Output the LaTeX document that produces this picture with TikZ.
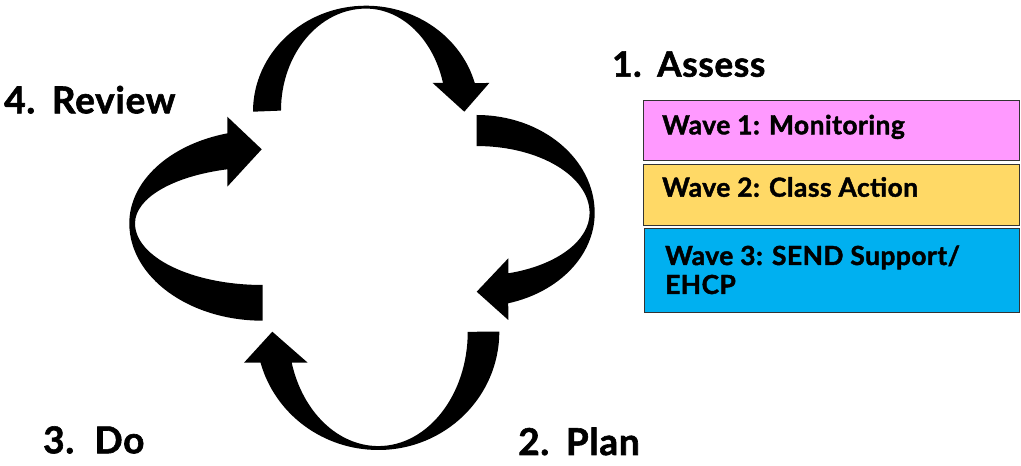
\documentclass[tikz,border=0pt]{standalone}
\usepackage{fontspec}
\setmainfont{Lato}[BoldFeatures={FakeBold=1.6,LetterSpace=2}]
\definecolor{wpink}{HTML}{FF99FF}
\definecolor{wgold}{HTML}{FFD966}
\definecolor{wblue}{HTML}{00B0F0}
\begin{document}
\begin{tikzpicture}[x=1pt,y=1pt,
  bigtext/.style={anchor=base west,inner sep=0pt,font=\fontsize{35}{40}\selectfont\bfseries},
  bigtextw/.style={bigtext,font=\fontsize{37}{42}\selectfont\bfseries},
  boxtext/.style={anchor=base west,inner sep=0pt,font=\fontsize{26.3}{30}\selectfont\bfseries},
  wavebox/.style={draw=black!80,line width=1.2pt,anchor=north west,inner sep=0pt,minimum width=376pt},
  bent/.style={fill=black}]
\useasboundingbox (0,0) rectangle (1021,466);
% top arrow
\fill[bent] (253,354.3) arc[start angle=180,end angle=15.7,x radius=113,y radius=106]
  -- (489.3,383) -- (464.3,354.3) -- (432.7,383) -- (443,383)
  arc[start angle=15.7,end angle=90,x radius=80,y radius=102]
  arc[start angle=90,end angle=180,x radius=85,y radius=102] -- cycle;
% right arrow
\fill[bent] (476.7,351) arc[start angle=90,end angle=0,x radius=118,y radius=98]
  arc[start angle=0,end angle=-74.5,x radius=118,y radius=93.7]
  -- (508.3,146) -- (476.7,174.3) -- (508.3,207.7) -- (508.3,192.7)
  arc[start angle=-73.7,end angle=0,x radius=113,y radius=62.8]
  arc[start angle=0,end angle=90,x radius=113,y radius=67] -- cycle;
% bottom arrow
\fill[bent] (499.3,134.3) arc[start angle=0,end angle=-90,x radius=121,y radius=118.3]
  arc[start angle=270,end angle=195.2,x radius=122,y radius=118.3]
  -- (244,103.3) -- (272.3,134.3) -- (307.7,103.3) -- (291.7,103.3)
  arc[start angle=195.7,end angle=270,x radius=90,y radius=114.3]
  arc[start angle=270,end angle=360,x radius=89.4,y radius=114.3] -- cycle;
% left arrow
\fill[bent] (262.7,145.3) arc[start angle=270,end angle=180,x radius=133.4,y radius=97.4]
  arc[start angle=180,end angle=105.4,x radius=133.4,y radius=93.3]
  -- (227.3,349.3) -- (261.7,316.7) -- (227.3,279.3) -- (227.3,296.7)
  arc[start angle=106.1,end angle=180,x radius=127.7,y radius=56.2]
  arc[start angle=180,end angle=270,x radius=127.7,y radius=61.7] -- cycle;
% stage labels
\node[bigtext] (assess) at (612,389.3) {1.\hspace{0.45em}Assess};
\node[bigtextw] (review) at (4,352.7) {4.\hspace{0.45em}Review};
\node[bigtextw] (do) at (43,12.7) {3.\hspace{0.55em}Do};
\node[bigtextw] (plan) at (518,11) {2.\hspace{0.45em}Plan};
% wave boxes
\node[wavebox,fill=wpink,minimum height=60pt] (w1) at (642.7,366) {};
\node[wavebox,fill=wgold,minimum height=61pt] (w2) at (642.7,302) {};
\node[wavebox,fill=wblue,minimum height=84pt,minimum width=375pt] (w3) at (644,237.7) {};
\node[boxtext] (t1) at (662,331.7) {Wave 1: Monitoring};
\node[boxtext] (t2) at (662,269.3) {Wave 2: Class Action};
\node[boxtext] (t3) at (665,201) {Wave 3: SEND Support/};
\node[boxtext] (t4) at (665,172) {EHCP};
\end{tikzpicture}
\end{document}
